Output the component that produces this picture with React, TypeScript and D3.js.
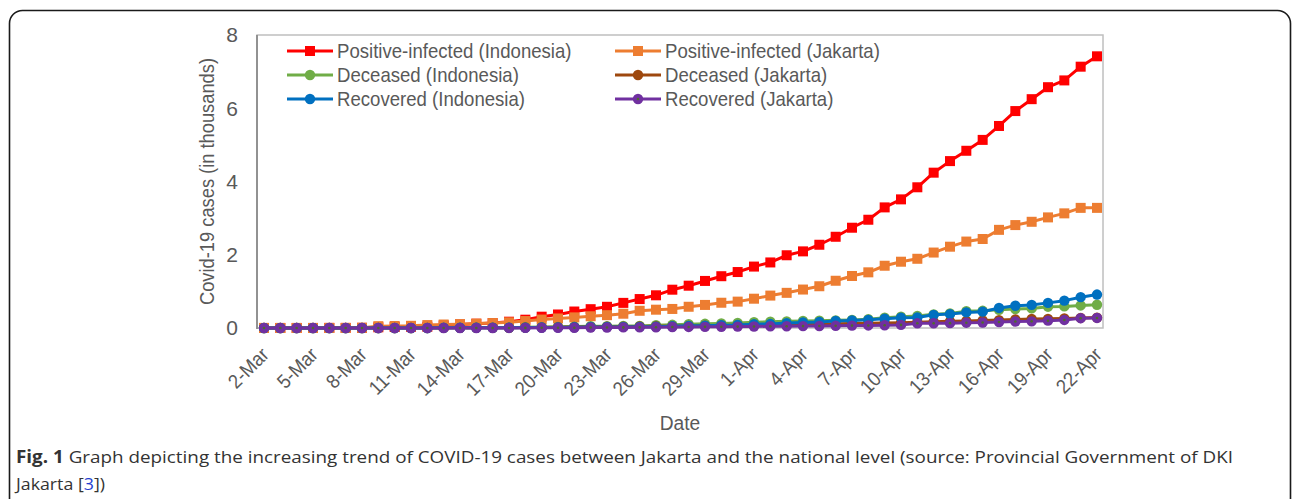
import React from "react";
import * as d3 from "d3";

const dates = [
  "2-Mar","3-Mar","4-Mar","5-Mar","6-Mar","7-Mar","8-Mar","9-Mar","10-Mar","11-Mar",
  "12-Mar","13-Mar","14-Mar","15-Mar","16-Mar","17-Mar","18-Mar","19-Mar","20-Mar","21-Mar",
  "22-Mar","23-Mar","24-Mar","25-Mar","26-Mar","27-Mar","28-Mar","29-Mar","30-Mar","31-Mar",
  "1-Apr","2-Apr","3-Apr","4-Apr","5-Apr","6-Apr","7-Apr","8-Apr","9-Apr","10-Apr","11-Apr",
  "12-Apr","13-Apr","14-Apr","15-Apr","16-Apr","17-Apr","18-Apr","19-Apr","20-Apr","21-Apr","22-Apr",
];

const tickLabels = [
  "2-Mar","5-Mar","8-Mar","11-Mar","14-Mar","17-Mar","20-Mar","23-Mar","26-Mar","29-Mar",
  "1-Apr","4-Apr","7-Apr","10-Apr","13-Apr","16-Apr","19-Apr","22-Apr",
];

const yTicks = [0, 2, 4, 6, 8];

// values in thousands
const positiveIndonesia = [
  0.002,0.002,0.002,0.002,0.004,0.004,0.006,0.019,0.027,0.034,0.034,0.069,0.096,0.117,0.134,
  0.172,0.227,0.309,0.369,0.450,0.514,0.579,0.686,0.790,0.893,1.046,1.155,1.285,1.414,1.528,
  1.677,1.790,1.986,2.092,2.273,2.491,2.738,2.956,3.293,3.512,3.842,4.241,4.557,4.839,5.136,
  5.516,5.923,6.248,6.575,6.760,7.135,7.418,
];
const positiveJakarta = [
  0,0,0,0,0,0,0.005,0.05,0.055,0.06,0.08,0.095,0.105,0.12,0.135,0.155,0.19,0.23,0.26,0.29,
  0.32,0.35,0.39,0.47,0.50,0.52,0.58,0.63,0.69,0.72,
  0.80,0.885,0.96,1.05,1.14,1.29,1.42,1.52,1.70,1.81,1.89,2.06,2.22,2.36,2.43,2.68,2.81,2.90,
  3.02,3.13,3.28,3.28,
];
const deceasedIndonesia = [
  0,0,0,0,0,0,0,0,0,0.001,0.001,0.004,0.005,0.005,0.005,0.007,0.019,0.025,0.032,0.038,0.048,
  0.049,0.055,0.058,0.078,0.087,0.102,0.114,0.122,0.136,
  0.157,0.170,0.181,0.191,0.198,0.209,0.221,0.240,0.280,0.306,0.327,0.373,0.399,0.459,0.469,
  0.496,0.520,0.535,0.582,0.590,0.616,0.635,
];
const deceasedJakarta = [
  0,0,0,0,0,0,0,0,0,0.001,0.002,0.003,0.004,0.005,0.006,0.008,0.012,0.017,0.023,0.028,0.031,
  0.036,0.038,0.042,0.046,0.051,0.057,0.062,0.068,0.074,
  0.083,0.090,0.096,0.102,0.108,0.114,0.122,0.128,0.135,0.146,0.156,0.170,0.181,0.192,0.204,
  0.216,0.233,0.245,0.250,0.262,0.275,0.284,
];
const recoveredIndonesia = [
  0,0,0,0,0,0,0,0,0,0,0,0.005,0.008,0.008,0.008,0.009,0.011,0.015,0.016,0.020,0.029,0.030,
  0.030,0.031,0.035,0.046,0.059,0.064,0.075,0.081,
  0.103,0.112,0.134,0.150,0.164,0.192,0.204,0.222,0.252,0.282,0.286,0.359,0.380,0.426,0.446,
  0.548,0.607,0.631,0.686,0.747,0.842,0.913,
];
const recoveredJakarta = [
  0,0,0,0,0,0,0,0,0,0,0,0,0,0,0.001,0.002,0.003,0.005,0.006,0.008,0.012,0.014,0.016,0.018,
  0.021,0.026,0.029,0.031,0.035,0.038,
  0.042,0.046,0.049,0.052,0.055,0.060,0.066,0.070,0.075,0.085,0.128,0.130,0.132,0.145,0.150,
  0.165,0.178,0.182,0.200,0.220,0.268,0.275,
];

const seriesNames = [
  "Positive-infected (Indonesia)",
  "Positive-infected (Jakarta)",
  "Deceased (Indonesia)",
  "Deceased (Jakarta)",
  "Recovered (Indonesia)",
  "Recovered (Jakarta)",
];
const seriesColors = ["#FF0000", "#ED7D31", "#70AD47", "#9E480E", "#0070C0", "#7030A0"];
const seriesMarkers = ["square", "square", "circle", "circle", "circle", "circle"];
const seriesValues = [
  positiveIndonesia, positiveJakarta, deceasedIndonesia,
  deceasedJakarta, recoveredIndonesia, recoveredJakarta,
];

const W = 1292;
const H = 499;
const plot = { left: 257, right: 1103, top: 35, bottom: 328 };
const FONT = "'Liberation Sans', Arial, sans-serif";
const TXT = "#595959";
const SX = 0.915;

function Marker({ shape, x, y, color, dot }: any) {
  if (shape === "square") {
    return <rect x={x - 5} y={y - 5} width={10} height={10} fill={color} />;
  }
  return (
    <g>
      <circle cx={x} cy={y} r={5.2} fill={color} />
      {dot ? <circle cx={x} cy={y} r={1.3} fill="#4E6B2C" /> : null}
    </g>
  );
}

export default function App() {
  const x = d3.scalePoint<string>().domain(dates).range([264, 1097]);
  const y = d3.scaleLinear().domain([0, 8]).range([plot.bottom, plot.top]);
  const line = d3
    .line<number>()
    .x((_, i) => x(dates[i]) as number)
    .y((d) => y(d));

  const legendCols = [287, 615];
  const legendRows = [51, 75, 99];

  return (
    <svg
      width={W}
      height={H}
      style={{ position: "absolute", left: 0, top: 0, background: "#fff" }}
      fontFamily={FONT}
    >
      <rect x={9.5} y={10.5} width={1281} height={560} rx={13} fill="#fff" stroke="#1a1a1a" strokeWidth={1.6} />

      {/* plot border */}
      <rect
        x={plot.left}
        y={plot.top}
        width={plot.right - plot.left}
        height={plot.bottom - plot.top}
        fill="none"
        stroke="#BFBFBF"
        strokeWidth={1.5}
      />
      <line x1={plot.left} x2={plot.left} y1={plot.top} y2={plot.bottom + 1} stroke="#8C8C8C" strokeWidth={1.8} />

      {/* y tick labels */}
      {yTicks.map((t) => (
        <text key={t} x={238} y={y(t)} dy="0.35em" textAnchor="end" fontSize={21} fill={TXT}>
          {t}
        </text>
      ))}

      {/* y title */}
      <text
        transform={`translate(214, ${(plot.top + plot.bottom) / 2}) rotate(-90) scale(${SX},1)`}
        textAnchor="middle"
        fontSize={20}
        fill={TXT}
      >
        Covid-19 cases (in thousands)
      </text>

      {/* x tick labels */}
      {tickLabels.map((t) => (
        <text
          key={t}
          transform={`translate(${(x(t) as number) + 1}, 351) rotate(-45) scale(${SX},1)`}
          textAnchor="end"
          dy="0.35em"
          fontSize={20}
          fill={TXT}
        >
          {t}
        </text>
      ))}

      {/* x title */}
      <text
        transform={`translate(680, 423) scale(${SX},1)`}
        dy="0.35em"
        textAnchor="middle"
        fontSize={21}
        fill={TXT}
      >
        Date
      </text>

      {/* series */}
      {seriesValues.map((vals, si) => (
        <g key={si}>
          <path d={line(vals) as string} fill="none" stroke={seriesColors[si]} strokeWidth={3} strokeLinejoin="round" />
          {vals.map((v, i) => (
            <Marker
              key={i}
              shape={seriesMarkers[si]}
              x={x(dates[i]) as number}
              y={y(v)}
              color={seriesColors[si]}
              dot={si === 5}
            />
          ))}
        </g>
      ))}

      {/* legend */}
      {seriesNames.map((name, si) => {
        const col = si % 2;
        const row = Math.floor(si / 2);
        const lx = legendCols[col];
        const ly = legendRows[row];
        return (
          <g key={name}>
            <line x1={lx} x2={lx + 46} y1={ly} y2={ly} stroke={seriesColors[si]} strokeWidth={3} />
            <Marker shape={seriesMarkers[si]} x={lx + 23} y={ly} color={seriesColors[si]} dot={si === 5} />
            <text
              transform={`translate(${lx + 50}, ${ly}) scale(0.93,1)`}
              dy="0.35em"
              fontSize={20}
              fill={TXT}
            >
              {name}
            </text>
          </g>
        );
      })}

      {/* caption */}
      <text x={16} y={463} fontSize={17} fill="#333" fontFamily="'Open Sans', sans-serif" textLength={1217} lengthAdjust="spacingAndGlyphs">
        <tspan fontWeight="bold">Fig. 1</tspan> Graph depicting the increasing trend of COVID-19 cases between Jakarta and the national level (source: Provincial Government of DKI
      </text>
      <text x={16} y={490} fontSize={17} fill="#333" fontFamily="'Open Sans', sans-serif" textLength={89} lengthAdjust="spacingAndGlyphs">
        Jakarta [<tspan fill="#1F3FD0">3</tspan>])
      </text>
    </svg>
  );
}
